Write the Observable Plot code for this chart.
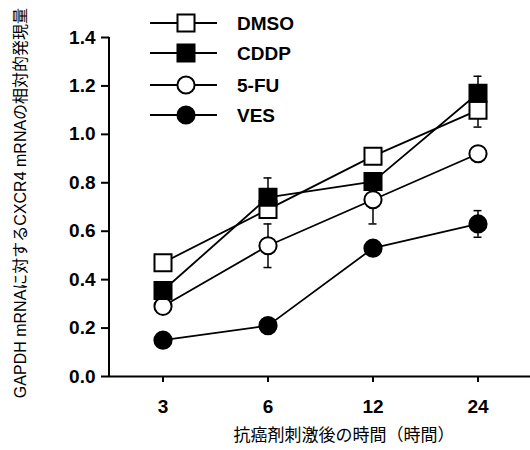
<!DOCTYPE html>
<html><head><meta charset="utf-8">
<script src="https://cdn.jsdelivr.net/npm/d3@7"></script>
<script src="https://cdn.jsdelivr.net/npm/@observablehq/plot@0.6"></script>
<style>
body{margin:0;background:#fff}
#wrap{position:relative;width:530px;height:450px}
#legend{position:absolute;left:0;top:0;pointer-events:none}
</style>
</head><body><div id="wrap"></div>
<script>
// ---- data ----
const times = ["3", "6", "12", "24"];
const seriesNames = ["DMSO", "CDDP", "5-FU", "VES"];
const dmso = [0.47, 0.69, 0.91, 1.10];
const cddp = [0.355, 0.74, 0.805, 1.17];
const fu = [0.29, 0.54, 0.73, 0.92];
const ves = [0.15, 0.21, 0.53, 0.63];
const dmsoErr = [0, 0, 0, 0.07];
const cddpErr = [0, 0.08, 0, 0.07];
const fuErr = [0, 0.09, 0.10, 0];
const vesErr = [0, 0, 0, 0.055];
const yTicks = [0, 0.2, 0.4, 0.6, 0.8, 1.0, 1.2, 1.4];
const xTitle = "抗癌剤刺激後の時間（時間）";
const yTitle = "GAPDH mRNAに対するCXCR4 mRNAの相対的発現量";

// styles per series (symbol, fill)
const symbols = {"DMSO": "square", "CDDP": "square", "5-FU": "circle", "VES": "circle"};
const fills = {"DMSO": "white", "CDDP": "black", "5-FU": "white", "VES": "black"};
const radius = {"square": 9.6, "circle": 8.6};

const values = [dmso, cddp, fu, ves];
const errs = [dmsoErr, cddpErr, fuErr, vesErr];
const rows = [];
seriesNames.forEach((s, i) => times.forEach((t, j) => rows.push({series: s, t, v: values[i][j], e: errs[i][j]})));
const errRows = rows.filter(d => d.e > 0);

const drawOrder = ["DMSO", "5-FU", "VES", "CDDP"];
const fontLatin = "'Liberation Sans', Arial, 'Noto Sans CJK JP', sans-serif";

const yAxisLine = (index, scales, vals, dims) => {
  const l = document.createElementNS("http://www.w3.org/2000/svg", "line");
  l.setAttribute("x1", dims.marginLeft); l.setAttribute("x2", dims.marginLeft);
  l.setAttribute("y1", dims.marginTop); l.setAttribute("y2", dims.height - dims.marginBottom + 1);
  l.setAttribute("stroke", "black"); l.setAttribute("stroke-width", 2);
  return l;
};

const plot = Plot.plot({
  width: 530, height: 450,
  marginLeft: 109, marginRight: 0, marginTop: 37, marginBottom: 74,
  style: {fontFamily: fontLatin, fontSize: "19px", fontWeight: "bold", background: "white", color: "black"},
  x: {type: "band", domain: times, padding: 0, label: null},
  y: {domain: [0, 1.4], label: null},
  marks: [
    Plot.axisY({ticks: yTicks, tickFormat: d3.format(".1f"), tickSize: 8, tickPadding: 6, strokeWidth: 2, label: null}),
    Plot.axisX({tickSize: 6, tickPadding: 17, strokeWidth: 2, label: null}),
    Plot.ruleY([0], {strokeWidth: 2}),
    yAxisLine,
    Plot.text([yTitle], {frameAnchor: "left", textAnchor: "middle", rotate: -90, dx: -89, dy: -4, text: d => d, fontSize: 16, fontWeight: "normal", fontFamily: "'Liberation Sans', 'Noto Sans CJK JP', sans-serif"}),
    Plot.text([xTitle], {frameAnchor: "bottom", textAnchor: "middle", dx: 24, dy: 64, text: d => d, fontSize: 17, fontWeight: "normal", fontFamily: "'Noto Sans CJK JP', sans-serif"}),
    Plot.line(rows, {x: "t", y: "v", z: "series", stroke: "black", strokeWidth: 1.8}),
    Plot.ruleX(errRows, {x: "t", y1: d => d.v - d.e, y2: d => d.v + d.e, stroke: "black", strokeWidth: 1.5}),
    Plot.tickY(errRows, {x: "t", y: d => d.v + d.e, insetLeft: 48.5, insetRight: 48.5, stroke: "black", strokeWidth: 1.5}),
    Plot.tickY(errRows, {x: "t", y: d => d.v - d.e, insetLeft: 48.5, insetRight: 48.5, stroke: "black", strokeWidth: 1.5}),
    ...drawOrder.map(s => Plot.dot(rows.filter(d => d.series === s), {
      x: "t", y: "v", symbol: () => symbols[s], r: radius[symbols[s]],
      fill: fills[s], stroke: "black", strokeWidth: 2
    }))
  ]
});

const wrap = document.getElementById("wrap");
wrap.appendChild(plot);

// legend overlay
const leg = d3.select(wrap).append("svg").attr("id", "legend").attr("width", 530).attr("height", 140);
const legY = [23, 53, 85, 115];
seriesNames.forEach((s, i) => {
  const g = leg.append("g").attr("transform", `translate(0,${legY[i]})`);
  g.append("line").attr("x1", 150).attr("x2", 217).attr("stroke", "black").attr("stroke-width", 1.8);
  const sym = d3.symbol(symbols[s] === "square" ? d3.symbolSquare : d3.symbolCircle, Math.PI * radius[symbols[s]] ** 2);
  g.append("path").attr("d", sym()).attr("transform", "translate(186,0)")
    .attr("fill", fills[s]).attr("stroke", "black").attr("stroke-width", 2);
  g.append("text").attr("x", 237).attr("dy", "0.35em").text(s)
    .attr("font-family", fontLatin).attr("font-weight", "bold").attr("font-size", 19);
});
</script>
</body></html>
